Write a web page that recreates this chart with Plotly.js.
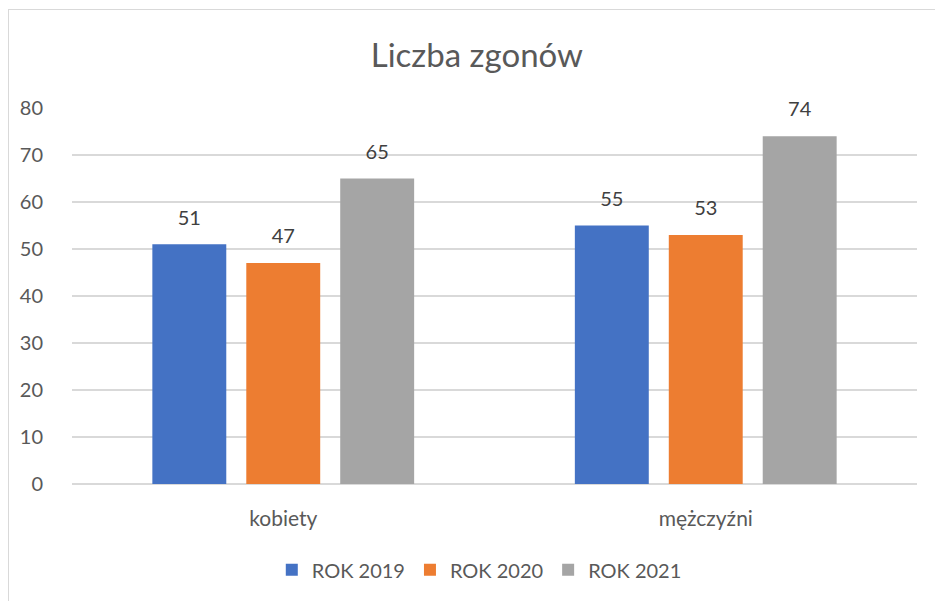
<!DOCTYPE html>
<html>
<head>
<meta charset="utf-8">
<script src="https://cdn.plot.ly/plotly-3.0.1.min.js"></script>
<style>
  html, body { margin: 0; padding: 0; background: #fff; overflow: hidden; }
  #frame { position: absolute; left: 8px; top: 9px; width: 1000px; height: 700px;
           border-left: 1.5px solid #d9d9d9; border-top: 1.5px solid #d9d9d9; }
  #chart { position: absolute; left: 0; top: 0; width: 935px; height: 601px; }
</style>
</head>
<body>
<div id="frame"></div>
<div id="chart"></div>
<script>
const categories = ["kobiety", "mężczyźni"];
const seriesNames = ["ROK 2019", "ROK 2020", "ROK 2021"];
const rok2019 = [51, 55];
const rok2020 = [47, 53];
const rok2021 = [65, 74];
const colors = ["#4472C4", "#ED7D31", "#A5A5A5"];
const font = "Lato, 'Open Sans', sans-serif";

const seriesValues = [rok2019, rok2020, rok2021];
const bars = seriesValues.map((vals, i) => ({
  type: "bar",
  name: seriesNames[i],
  x: categories,
  y: vals,
  offsetgroup: "g" + i,
  marker: { color: colors[i] },
  hoverinfo: "skip"
}));
const labels = seriesValues.map((vals, i) => ({
  type: "scatter",
  mode: "markers+text",
  x: categories,
  y: vals,
  offsetgroup: "g" + i,
  showlegend: false,
  marker: { size: 22, opacity: 0, color: colors[i] },
  text: vals.map(String),
  textposition: "top center",
  textfont: { family: font, size: 20, color: "#404040" },
  cliponaxis: false,
  hoverinfo: "skip"
}));

const layout = {
  width: 935, height: 601,
  paper_bgcolor: "rgba(0,0,0,0)",
  plot_bgcolor: "rgba(0,0,0,0)",
  margin: { l: 72, r: 18, t: 108, b: 114 },
  title: {
    text: "Liczba zgonów",
    font: { family: font, size: 33, color: "#595959" },
    x: 0.51, xanchor: "center", y: 0.908, yanchor: "middle"
  },
  barmode: "group",
  bargap: 0.333,
  bargroupgap: 0.213,
  scattermode: "group",
  scattergap: 0.333,
  xaxis: {
    showgrid: false, showline: false, zeroline: false,
    ticks: "", tickfont: { family: font, size: 21, color: "#595959" },
    ticklabelstandoff: 20
  },
  yaxis: {
    range: [0, 80], dtick: 10, tick0: 0,
    showgrid: true, gridcolor: "#d9d9d9", gridwidth: 1.5,
    zeroline: true, zerolinecolor: "#d9d9d9", zerolinewidth: 1.5,
    showline: false, ticks: "",
    tickfont: { family: font, size: 20, color: "#595959" },
    ticklabelstandoff: 28
  },
  legend: {
    orientation: "h", x: 0.482, xanchor: "center", y: -0.228, yanchor: "middle",
    font: { family: font, size: 20, color: "#595959" },
    itemwidth: 30, traceorder: "normal"
  },
  showlegend: true
};

Plotly.newPlot("chart", bars.concat(labels), layout, { displayModeBar: false, staticPlot: true });
</script>
</body>
</html>
